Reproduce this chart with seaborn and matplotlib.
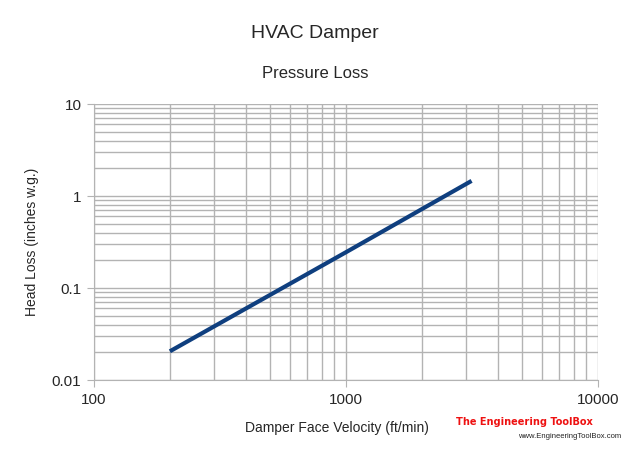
import matplotlib
matplotlib.use("Agg")
import matplotlib.pyplot as plt
import seaborn as sns
import pandas as pd
from matplotlib.ticker import LogLocator, FixedLocator, FixedFormatter, NullFormatter

velocity = [200, 1000, 3150]
head_loss = [0.0205, 0.245, 1.46]
x_ticks = [100, 1000, 10000]
x_labels = ["100", "1000", "10000"]
y_ticks = [0.01, 0.1, 1, 10]
y_labels = ["0.01", "0.1", "1", "10"]

sns.set_style("white")
plt.rcParams['font.family'] = ['Liberation Sans', 'DejaVu Sans']

df = pd.DataFrame({"v": velocity, "h": head_loss})
fig = plt.figure(figsize=(6.3, 4.57), dpi=100)
ax = fig.add_axes([94/630, 1-380/457, (598-94)/630, (380-104)/457])
sns.lineplot(data=df, x="v", y="h", ax=ax, color="#0f3f7f", linewidth=3, solid_capstyle="butt")
ax.set_xscale("log")
ax.set_yscale("log")
ax.set_xlim(100, 10000)
ax.set_ylim(0.01, 10)
ax.xaxis.set_major_locator(FixedLocator(x_ticks))
ax.xaxis.set_major_formatter(FixedFormatter(x_labels))
ax.yaxis.set_major_locator(FixedLocator(y_ticks))
ax.yaxis.set_major_formatter(FixedFormatter(y_labels))
ax.xaxis.set_minor_locator(LogLocator(base=10, subs=range(2, 10)))
ax.yaxis.set_minor_locator(LogLocator(base=10, subs=range(2, 10)))
ax.xaxis.set_minor_formatter(NullFormatter())
ax.yaxis.set_minor_formatter(NullFormatter())
ax.grid(True, which="both", color="#b3b3b3", linewidth=1)
ax.tick_params(which="major", length=5, color="#b3b3b3", labelsize=11, pad=4, direction="out", left=True, bottom=True)
ax.tick_params(which="minor", length=0)
for s in ["top", "right"]:
    ax.spines[s].set_visible(False)
for s in ["left", "bottom"]:
    ax.spines[s].set_color("#b3b3b3")
ax.set_xlabel("")
ax.set_ylabel("")
fig.text(337/630, 1-428/457, "Damper Face Velocity (ft/min)", ha="center", va="center", fontsize=10)
fig.text(32/630, 1-242/457, "Head Loss (inches w.g.)", ha="center", va="center", fontsize=10, rotation=90)
fig.text(0.5, 1-33/457, "HVAC Damper", ha="center", va="center", fontsize=14)
fig.text(0.5, 1-73/457, "Pressure Loss", ha="center", va="center", fontsize=12)
fig.text(593/630, 1-422/457, "The Engineering ToolBox", ha="right", va="center", fontsize=7.8,
         color="#ee1111", fontweight="bold", fontstretch="condensed", family=["DejaVu Sans"])
fig.text(621/630, 1-436/457, "www.EngineeringToolBox.com", ha="right", va="center", fontsize=5.5, color="#222222")
fig.savefig("out.png", dpi=100)
